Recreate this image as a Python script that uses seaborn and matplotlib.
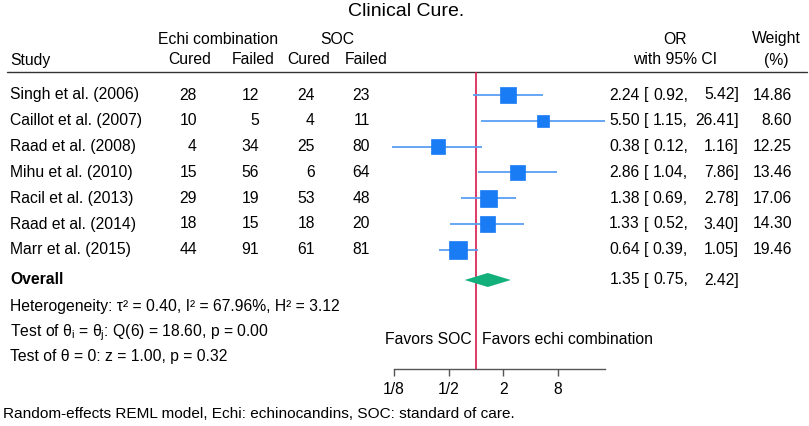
import matplotlib
matplotlib.use("Agg")
import matplotlib.pyplot as plt
import seaborn as sns
import pandas as pd
import numpy as np

# study data
studies = ["Singh et al. (2006)", "Caillot et al. (2007)", "Raad et al. (2008)",
           "Mihu et al. (2010)", "Racil et al. (2013)", "Raad et al. (2014)",
           "Marr et al. (2015)"]
echi_cured = [28, 10, 4, 15, 29, 18, 44]
echi_failed = [12, 5, 34, 56, 19, 15, 91]
soc_cured = [24, 4, 25, 6, 53, 18, 61]
soc_failed = [23, 11, 80, 64, 48, 20, 81]
odds = [2.24, 5.50, 0.38, 2.86, 1.38, 1.33, 0.64]
ci_low = [0.92, 1.15, 0.12, 1.04, 0.69, 0.52, 0.39]
ci_high = [5.42, 26.41, 1.16, 7.86, 2.78, 3.40, 1.05]
weights = [14.86, 8.60, 12.25, 13.46, 17.06, 14.30, 19.46]

overall_or = 1.35
overall_low = 0.75
overall_high = 2.42

tick_vals = [1/8, 1/2, 2, 8]
tick_labels = ["1/8", "1/2", "2", "8"]

sns.set_theme(style="white")
plt.rcParams["font.family"] = ["Liberation Sans", "DejaVu Sans"]
plt.rcParams["text.color"] = "black"
plt.rcParams["mathtext.fontset"] = "custom"
plt.rcParams["mathtext.rm"] = "Liberation Sans"
plt.rcParams["mathtext.it"] = "Liberation Sans"
plt.rcParams["mathtext.bf"] = "Liberation Sans:bold"

W, H = 809, 426
fig = plt.figure(figsize=(W / 100, H / 100), dpi=100)

# background axes in pixel units for all the table text
bg = fig.add_axes([0, 0, 1, 1])
bg.set_xlim(0, W)
bg.set_ylim(H, 0)
bg.axis("off")

fs = 11.3
row_y = 95 + 25.8 * np.arange(len(studies))
overall_y = 280

bg.text(406, 12, "Clinical Cure.", fontsize=14, ha="center", va="center")

# headers
bg.text(218, 39, "Echi combination", fontsize=fs, ha="center", va="center")
bg.text(337, 39, "SOC", fontsize=fs, ha="center", va="center")
bg.text(675, 39, "OR", fontsize=fs, ha="center", va="center")
bg.text(776, 39, "Weight", fontsize=fs, ha="center", va="center")
bg.text(10, 60, "Study", fontsize=fs, ha="left", va="center")
for x, lab in zip([190, 253, 309, 366], ["Cured", "Failed", "Cured", "Failed"]):
    bg.text(x, 60, lab, fontsize=fs, ha="center", va="center")
bg.text(675, 60, "with 95% CI", fontsize=fs, ha="center", va="center")
bg.text(776, 60, "(%)", fontsize=fs, ha="center", va="center")
bg.plot([7, 807], [71.5, 71.5], color="#333333", lw=1)

for i, y in enumerate(row_y):
    bg.text(10, y, studies[i], fontsize=fs, ha="left", va="center")
    bg.text(197, y, str(echi_cured[i]), fontsize=fs, ha="right", va="center")
    bg.text(259, y, str(echi_failed[i]), fontsize=fs, ha="right", va="center")
    bg.text(315, y, str(soc_cured[i]), fontsize=fs, ha="right", va="center")
    bg.text(370, y, str(soc_failed[i]), fontsize=fs, ha="right", va="center")
    bg.text(640, y, f"{odds[i]:.2f}", fontsize=fs, ha="right", va="center")
    bg.text(644, y, "[", fontsize=fs, ha="left", va="center")
    bg.text(688, y, f"{ci_low[i]:.2f},", fontsize=fs, ha="right", va="center")
    bg.text(739, y, f"{ci_high[i]:.2f}]", fontsize=fs, ha="right", va="center")
    bg.text(792, y, f"{weights[i]:.2f}", fontsize=fs, ha="right", va="center")

bg.text(10, overall_y, "Overall", fontsize=fs, ha="left", va="center", fontweight="bold")
bg.text(640, overall_y, f"{overall_or:.2f}", fontsize=fs, ha="right", va="center")
bg.text(644, overall_y, "[", fontsize=fs, ha="left", va="center")
bg.text(688, overall_y, f"{overall_low:.2f},", fontsize=fs, ha="right", va="center")
bg.text(739, overall_y, f"{overall_high:.2f}]", fontsize=fs, ha="right", va="center")

bg.text(10, 306, "Heterogeneity: τ² = 0.40, I² = 67.96%, H² = 3.12",
        fontsize=fs, ha="left", va="center")
bg.text(10, 333, r"Test of $\theta_i$ = $\theta_j$: Q(6) = 18.60, p = 0.00",
        fontsize=fs, ha="left", va="center")
bg.text(10, 356, "Test of θ = 0: z = 1.00, p = 0.32",
        fontsize=fs, ha="left", va="center")

bg.text(472, 340, "Favors SOC", fontsize=fs, ha="right", va="center")
bg.text(482, 340, "Favors echi combination", fontsize=fs, ha="left", va="center")

bg.text(3, 414, "Random-effects REML model, Echi: echinocandins, SOC: standard of care.",
        fontsize=11.1, ha="left", va="center")

# forest panel
ax_l, ax_r, ax_t, ax_b = 394, 605, 72, 369
ax = fig.add_axes([ax_l / W, (H - ax_b) / H, (ax_r - ax_l) / W, (ax_b - ax_t) / H])
ax.set_facecolor("none")
ax.set_xscale("log", base=2)
ax.set_xlim(tick_vals[0], max(ci_high))
ax.set_ylim(ax_b, ax_t)

df = pd.DataFrame({"study": studies, "OR": odds, "low": ci_low, "high": ci_high,
                   "weight": weights, "y": row_y})

ax.axvline(1, color="#d8194a", lw=1.2, zorder=1)
ax.hlines(df["y"], df["low"], df["high"], color="#5a9ff2", lw=1.3, zorder=2, clip_on=False)
sns.scatterplot(data=df, x="OR", y="y", size="weight", sizes=(0, 20 * 8.6),
                size_norm=(0, 20), marker="s", color="#1a7cf5", edgecolor="#1a7cf5",
                linewidth=0.5, legend=False, zorder=3, ax=ax, clip_on=False)

dh = 7
ax.fill([overall_low, overall_or, overall_high, overall_or],
        [overall_y, overall_y - dh, overall_y, overall_y + dh],
        color="#14b07c", zorder=3, lw=0)

for side in ["top", "right", "left"]:
    ax.spines[side].set_visible(False)
ax.spines["bottom"].set_color("#555555")
ax.spines["bottom"].set_linewidth(1)
ax.set_yticks([])
ax.set_xticks(tick_vals)
ax.set_xticklabels(tick_labels)
ax.minorticks_off()
ax.tick_params(axis="x", direction="out", length=5, width=1, color="#555555",
               labelsize=fs, pad=4, labelcolor="black", bottom=True)
ax.set_xlabel("")
ax.set_ylabel("")

fig.savefig("out.png", dpi=100)
